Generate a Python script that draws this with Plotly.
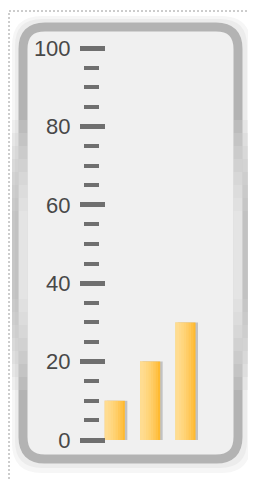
import plotly.graph_objects as go

# ---- data ----
categories = ["A", "B", "C"]
values = [10, 20, 30]
major_ticks = [0, 20, 40, 60, 80, 100]
major_labels = ["0", "20", "40", "60", "80", "100"]
minor_ticks = [5, 10, 15, 25, 30, 35, 45, 50, 55, 65, 70, 75, 85, 90, 95]

OFF = 8  # page body offset
W, H = 248, 471
BAR_W = 0.57
BAR_OFF = -0.31


def px(x):
    return (x - OFF) / W


def py(y):
    return 1 - (y - OFF) / H


def rounded_rect(x0, y0, x1, y1, r):
    pts = [
        f"M {px(x0 + r)},{py(y0)}",
        f"L {px(x1 - r)},{py(y0)}",
        f"Q {px(x1)},{py(y0)} {px(x1)},{py(y0 + r)}",
        f"L {px(x1)},{py(y1 - r)}",
        f"Q {px(x1)},{py(y1)} {px(x1 - r)},{py(y1)}",
        f"L {px(x0 + r)},{py(y1)}",
        f"Q {px(x0)},{py(y1)} {px(x0)},{py(y1 - r)}",
        f"L {px(x0)},{py(y0 + r)}",
        f"Q {px(x0)},{py(y0)} {px(x0 + r)},{py(y0)}",
        "Z",
    ]
    return " ".join(pts)


fig = go.Figure()

# shadow bars
fig.add_trace(go.Bar(
    x=categories, y=values, width=BAR_W, offset=BAR_OFF + 0.07,
    marker=dict(color="rgba(90,90,90,0.3)", line=dict(width=0)),
    hoverinfo="skip", showlegend=False,
))
# main bars
fig.add_trace(go.Bar(
    x=categories, y=values, width=BAR_W, offset=BAR_OFF,
    marker=dict(color="#FFBA30", line=dict(width=0)),
    showlegend=False,
))
# light sheen layers (left side lighter)
for frac in [0.9, 0.78, 0.66, 0.54, 0.42, 0.3, 0.18]:
    fig.add_trace(go.Bar(
        x=categories, y=values, width=BAR_W * frac, offset=BAR_OFF,
        marker=dict(color="rgba(255,240,200,0.14)", line=dict(width=0)),
        hoverinfo="skip", showlegend=False,
    ))
# invisible trace so the minor-tick axis is drawn
fig.add_trace(go.Scatter(
    x=categories, y=values, yaxis="y2", mode="markers",
    marker=dict(opacity=0), hoverinfo="skip", showlegend=False,
))

ydom = [py(440), py(48)]

shapes = [
    dict(type="rect", xref="paper", yref="paper",
         x0=px(9), x1=px(270), y0=py(11), y1=py(500),
         line=dict(color="#9a9a9a", width=1, dash="2px,2px"), layer="below"),
    dict(type="path", xref="paper", yref="paper",
         path=rounded_rect(12, 16, 251, 473, 30),
         fillcolor="#f6f6f6", line=dict(width=0), layer="below"),
    dict(type="path", xref="paper", yref="paper",
         path=rounded_rect(15, 19, 247, 468, 27),
         fillcolor="#ececec", line=dict(width=0), layer="below"),
    dict(type="path", xref="paper", yref="paper",
         path=rounded_rect(23, 27, 238, 459, 22),
         fillcolor="#f0f0f0", line=dict(color="#b3b3b3", width=9), layer="below"),
]

# soft glossy reflection on the left / right sides of the frame
for k in range(8):
    y0 = 120 + k * 13
    y1 = 390 - k * 13
    shapes.append(dict(type="rect", xref="paper", yref="paper",
                       x0=px(12), x1=px(18.5), y0=py(y0), y1=py(y1),
                       fillcolor="rgba(170,170,170,0.10)", line=dict(width=0),
                       layer="below"))
    shapes.append(dict(type="rect", xref="paper", yref="paper",
                       x0=px(242.5), x1=px(251), y0=py(y0), y1=py(y1),
                       fillcolor="rgba(170,170,170,0.10)", line=dict(width=0),
                       layer="below"))
    shapes.append(dict(type="rect", xref="paper", yref="paper",
                       x0=px(18.5), x1=px(27.5), y0=py(y0), y1=py(y1),
                       fillcolor="rgba(255,255,255,0.13)", line=dict(width=0),
                       layer="below"))
    shapes.append(dict(type="rect", xref="paper", yref="paper",
                       x0=px(233.5), x1=px(242.5), y0=py(y0), y1=py(y1),
                       fillcolor="rgba(255,255,255,0.13)", line=dict(width=0),
                       layer="below"))

fig.update_layout(
    width=W, height=H,
    margin=dict(l=0, r=0, t=0, b=0, pad=0, autoexpand=False),
    paper_bgcolor="white",
    plot_bgcolor="rgba(0,0,0,0)",
    barmode="overlay",
    showlegend=False,
    shapes=shapes,
    xaxis=dict(domain=[px(98), px(204)], range=[-0.5, 2.5],
               showticklabels=False, showgrid=False, zeroline=False,
               showline=False, ticks="", fixedrange=True),
    yaxis=dict(domain=ydom, range=[0, 100], anchor="free", position=px(105),
               side="left", automargin=False,
               tickvals=major_ticks, ticktext=major_labels,
               ticks="outside", ticklen=25, tickwidth=5, tickcolor="#6f6f6f",
               ticklabelstandoff=5,
               tickfont=dict(family="Liberation Sans, Arial", size=22, color="#484848"),
               showgrid=False, zeroline=False, showline=False),
    yaxis2=dict(domain=ydom, range=[0, 100], overlaying="y", anchor="free",
                position=px(99), side="left", automargin=False,
                tickvals=minor_ticks, ticks="outside", ticklen=15, tickwidth=4,
                tickcolor="#6f6f6f", showticklabels=False,
                showgrid=False, zeroline=False, showline=False),
)

fig.write_html("out.html")
